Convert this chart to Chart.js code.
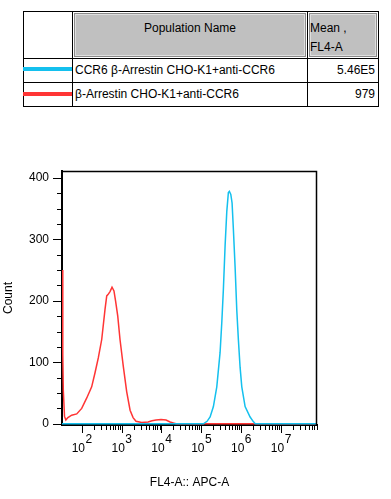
<!DOCTYPE html>
<html>
<head>
<meta charset="utf-8">
<script src="https://cdn.jsdelivr.net/npm/chart.js@4.4.0/dist/chart.umd.min.js"></script>
<style>
  body { margin: 0; background: #fff; font-family: "Liberation Sans", Arial, sans-serif; font-size: 12px; color: #000; }
  .cell { position: absolute; box-sizing: border-box; border: 1px solid #000; white-space: nowrap; overflow: hidden; }
  .head { background: #c0c0c0; box-shadow: inset 0 0 0 1px #fff, inset 0 0 0 2px #8a8a8a, inset 0 0 0 3px #dedede; line-height: 19px; padding-top: 7px; }
  .row { line-height: 23px; }
  .swatch { position: absolute; height: 4px; }
  #chartBox { position: absolute; left: 0; top: 150px; }
</style>
</head>
<body>

<!-- legend table -->
<div class="cell" style="left:23px;top:11px;width:50px;height:48px;"></div>
<div class="cell head" style="left:72px;top:11px;width:236px;height:48px;text-align:center;">Population Name</div>
<div class="cell head" style="left:307px;top:11px;width:72px;height:48px;padding-left:2px;">Mean ,<br>FL4-A</div>

<div class="cell" style="left:23px;top:58px;width:50px;height:25px;"></div>
<div class="cell row" style="left:72px;top:58px;width:236px;height:25px;padding-left:2px;">CCR6 β-Arrestin CHO-K1+anti-CCR6</div>
<div class="cell row" style="left:307px;top:58px;width:72px;height:25px;padding-right:3px;text-align:right;">5.46E5</div>

<div class="cell" style="left:23px;top:82px;width:50px;height:25px;"></div>
<div class="cell row" style="left:72px;top:82px;width:236px;height:25px;padding-left:2px;">β-Arrestin CHO-K1+anti-CCR6</div>
<div class="cell row" style="left:307px;top:82px;width:72px;height:25px;padding-right:3px;text-align:right;">979</div>

<div class="swatch" style="left:23px;top:67px;width:49px;background:#14c0ee;"></div>
<div class="swatch" style="left:23px;top:92px;width:49px;background:#ff3535;"></div>

<div id="chartBox"><canvas id="histo" width="391" height="349"></canvas></div>

<script>
'use strict'

//------------------Data----------------------// FL4-A values and counts
var blueX = [32, 113500, 140600, 167500, 202800, 246600, 298500, 329600, 361400, 399000, 439500, 482000, 510500,
  554600, 597000, 644200, 711200, 783400, 861000, 948400, 1047000, 1268000, 1694000, 2014000, 2275000, 81000000];
var blueY = [0, 0, 4, 11, 28, 60, 116, 165, 219, 290, 345, 376, 378,
  373, 359, 316, 255, 185, 136, 92, 60, 28, 11, 4, 0, 0];

var redX = [32, 33.5, 34.5, 37, 40, 45, 56, 75, 100, 134, 178, 216, 261, 318, 385, 425, 457, 514, 577, 646,
  708, 804, 916, 1110, 1350, 1640, 1950, 2310, 3220, 4640, 5830, 7360, 9820, 13100, 16600, 20800, 23400, 81000000];
var redY = [250, 112, 55, 12, 6, 10, 14, 16, 25, 42, 60, 83, 107, 137, 186, 208, 210, 215, 222, 216,
  200, 175, 137, 93, 52, 22, 10, 4, 2, 3, 5, 6, 7, 6, 3, 1, 0, 0];

var seriesNames = ['CCR6 β-Arrestin CHO-K1+anti-CCR6', 'β-Arrestin CHO-K1+anti-CCR6'];
var seriesColors = ['#14c0ee', '#ff3535'];

// tick labels
var yTicks = [0, 100, 200, 300, 400];
var xMajor = [1e2, 1e3, 1e4, 1e5, 1e6, 1e7];
var xExp = ['2', '3', '4', '5', '6', '7'];

var FONT = '"Liberation Sans", Arial, sans-serif';

function toPoints(xs, ys) {
  var pts = [];
  for (let i = 0; i < xs.length; i++) {
    pts.push({ x: xs[i], y: ys[i] });
  }
  return pts;
}

//-------------Frame, tick marks and 10^n labels----------------//
var axisExtras = {
  id: 'axisExtras',
  afterDraw: function(chart) {
    var c = chart.ctx;
    var a = chart.chartArea;
    var xs = chart.scales.x;
    var ys = chart.scales.y;

    c.save();
    c.strokeStyle = '#000';

    // top and right of the frame
    c.lineWidth = 1.5;
    c.beginPath();
    c.moveTo(a.left, a.top + 0.5);
    c.lineTo(a.right - 0.5, a.top + 0.5);
    c.lineTo(a.right - 0.5, a.bottom);
    c.stroke();

    c.lineWidth = 1;
    c.beginPath();
    // x ticks: majors plus log minors from 10^2 up
    for (let n = 2; n <= 7; n++) {
      for (let k = 1; k <= 9; k++) {
        var v = k * Math.pow(10, n);
        if (v > xs.max) break;
        var px = Math.round(xs.getPixelForValue(v)) + 0.5;
        c.moveTo(px, a.bottom + 1);
        c.lineTo(px, a.bottom + (k === 1 ? 8 : 5));
      }
    }
    // y ticks every 25, majors every 100
    for (let v = 0; v <= 400; v += 25) {
      var py = Math.round(ys.getPixelForValue(v)) + 0.5;
      c.moveTo(a.left - 1, py);
      c.lineTo(a.left - (v % 100 === 0 ? 9 : 5), py);
    }
    c.stroke();

    // x labels as 10 with a raised exponent
    c.fillStyle = '#000';
    c.font = '12px ' + FONT;
    c.textBaseline = 'alphabetic';
    c.textAlign = 'left';
    for (let i = 0; i < xMajor.length; i++) {
      var p = xs.getPixelForValue(xMajor[i]);
      var w1 = c.measureText('10').width;
      var w2 = c.measureText(xExp[i]).width;
      var x0 = p - (w1 + w2) / 2;
      c.fillText('10', x0, a.bottom + 27);
      c.fillText(xExp[i], x0 + w1 + 0.5, a.bottom + 18);
    }
    c.restore();
  }
};

//-------------Chart----------------//
var ctx = document.getElementById('histo').getContext('2d');

new Chart(ctx, {
  type: 'line',
  data: {
    datasets: [{
      label: seriesNames[0],
      data: toPoints(blueX, blueY),
      borderColor: seriesColors[0],
      borderWidth: 1.5,
      pointRadius: 0,
      tension: 0
    }, {
      label: seriesNames[1],
      data: toPoints(redX, redY),
      borderColor: seriesColors[1],
      borderWidth: 1.5,
      pointRadius: 0,
      tension: 0
    }]
  },
  options: {
    responsive: false,
    animation: false,
    layout: { padding: { left: 0, right: 74, top: 21, bottom: 0 } },
    plugins: {
      legend: { display: false },
      tooltip: { enabled: false }
    },
    scales: {
      x: {
        type: 'logarithmic',
        min: 32,
        max: 81000000,
        grid: { display: false, drawTicks: false },
        border: { display: true, color: '#000', width: 2 },
        ticks: { display: false },
        title: {
          display: true,
          text: 'FL4-A:: APC-A',
          color: '#000',
          font: { size: 12, family: FONT },
          padding: { top: 0, bottom: 9 }
        },
        afterFit: function(s) { s.height = 74; }
      },
      y: {
        min: -2,
        max: 411,
        afterBuildTicks: function(s) {
          s.ticks = yTicks.map(function(v) { return { value: v }; });
        },
        grid: { display: false, drawTicks: false },
        border: { display: true, color: '#000', width: 2 },
        ticks: { color: '#000', font: { size: 12, family: FONT }, padding: 13 },
        title: {
          display: true,
          text: 'Count',
          color: '#000',
          font: { size: 12, family: FONT },
          padding: { top: 1, bottom: 0 }
        },
        afterFit: function(s) { s.width = 62; }
      }
    }
  },
  plugins: [axisExtras]
});
</script>
</body>
</html>
